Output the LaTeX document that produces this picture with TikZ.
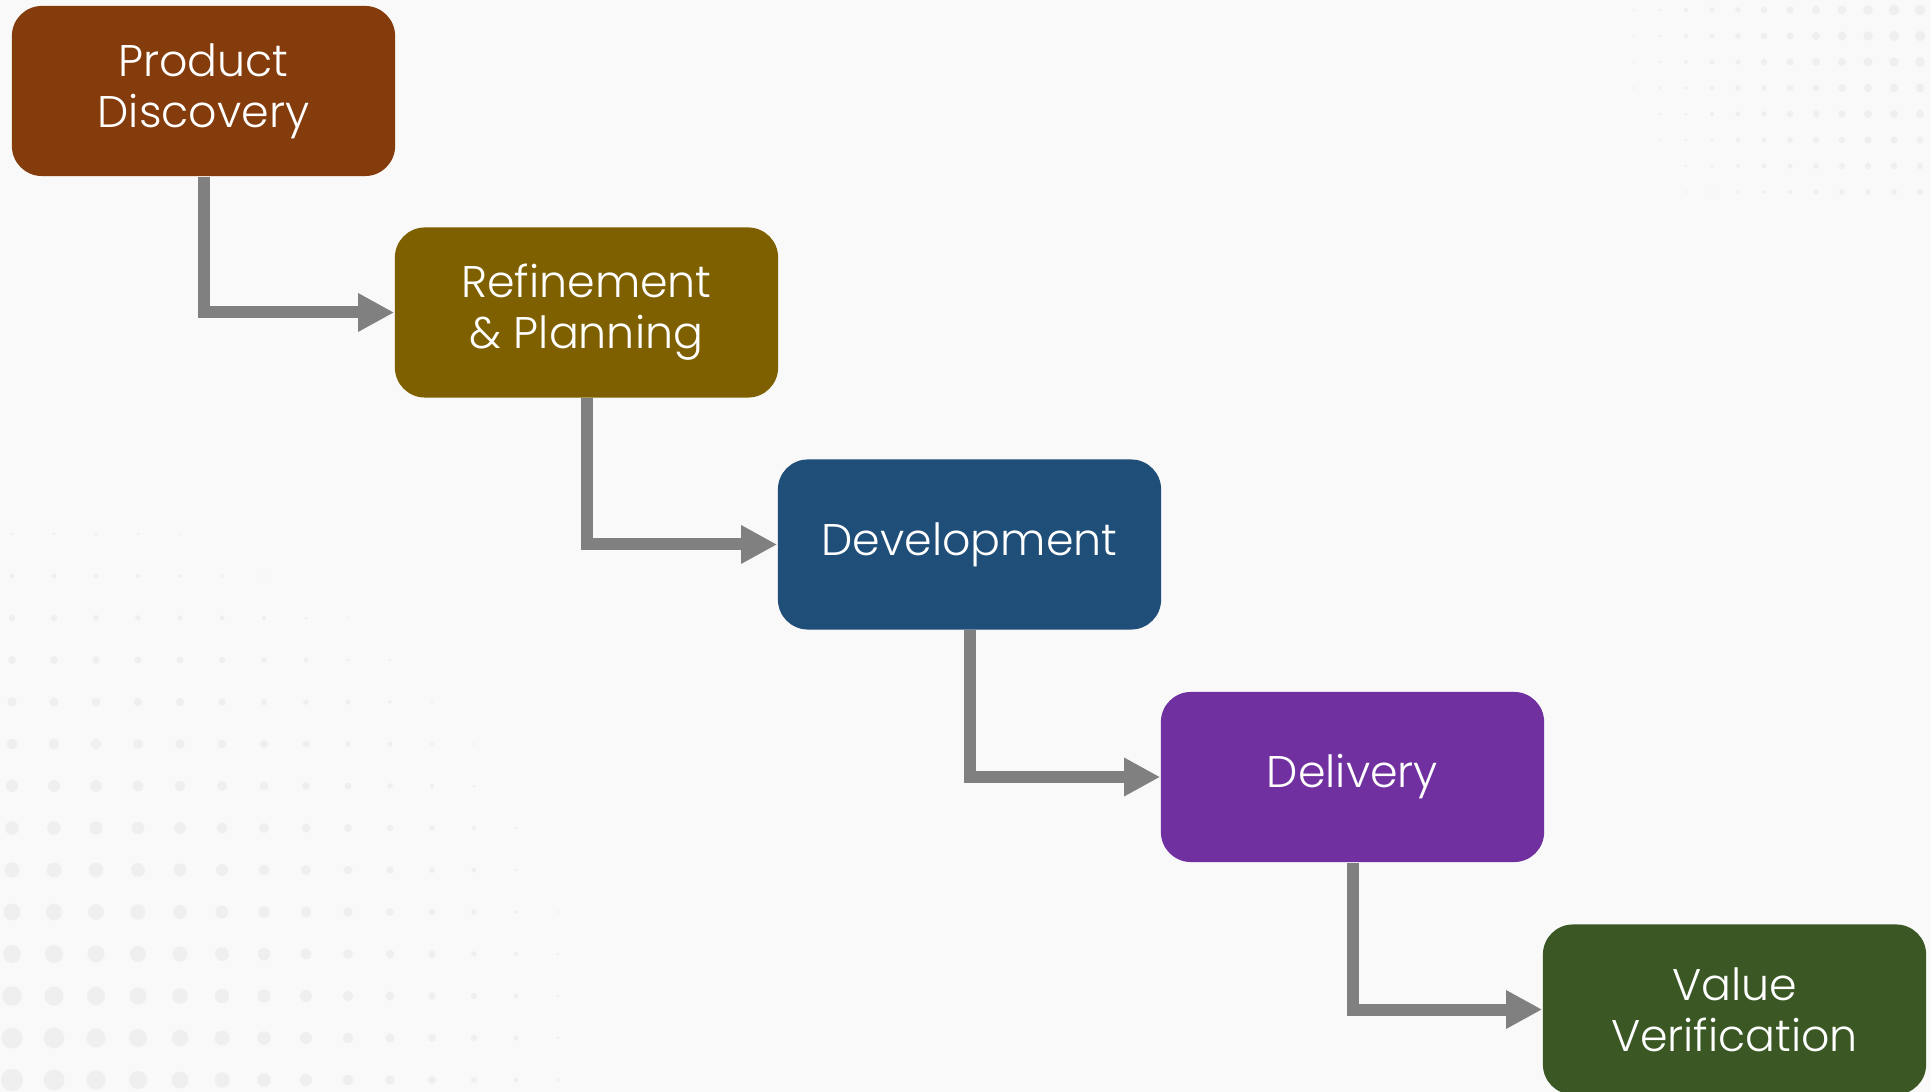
\documentclass[tikz,border=0pt]{standalone}
\usepackage{fontspec}
\setmainfont{Poppins}[UprightFont=* Light]
\usetikzlibrary{arrows.meta}
\definecolor{discbrown}{HTML}{843C0C}
\definecolor{planolive}{HTML}{7F6000}
\definecolor{devblue}{HTML}{1F4E79}
\definecolor{delpurple}{HTML}{7030A0}
\definecolor{valgreen}{HTML}{3A5724}
\definecolor{flowgray}{HTML}{808080}
\definecolor{bggray}{HTML}{F9F9F9}
\definecolor{dotgray}{HTML}{EFEFEF}

\tikzset{
  stage/.style={rounded corners=0.3cm, minimum width=3.83cm, minimum height=1.70cm,
    text=white, align=center, inner sep=0pt, font=\fontsize{12.6}{14.6}\selectfont},
  flow/.style={draw=flowgray, line width=0.12cm, -{Triangle[length=0.36cm,width=0.36cm]}}
}

\begin{document}
\begin{tikzpicture}[x=0.01cm, y=-0.01cm]
    \useasboundingbox (0,0) rectangle (1931,1092);
    \clip (0,0) rectangle (1931,1092);
    \fill[bggray] (0,0) rectangle (1931,1092);

    % faint halftone dots, lower left and upper right
    \foreach \i in {0,...,18} {
      \foreach \j in {0,...,13} {
        \pgfmathsetmacro{\dd}{42*sqrt(\i*\i+\j*\j)}
        \pgfmathsetmacro{\rr}{max(0,3.2-\dd/200)}
        \ifdim\rr pt>0.3pt
          \fill[dotgray] (\i*42+12, 1080-\j*42) circle (\rr pt);
        \fi
      }
    }
    \foreach \i in {0,...,14} {
      \foreach \j in {0,...,7} {
        \pgfmathsetmacro{\dd}{26*sqrt(\i*\i+\j*\j)}
        \pgfmathsetmacro{\rr}{max(0,1.6-\dd/230)}
        \ifdim\rr pt>0.3pt
          \fill[dotgray] (1920-\i*26, 10+\j*26) circle (\rr pt);
        \fi
      }
    }

    \node[stage, fill=discbrown] (disc) at (203.5,91) {Product\\Discovery};
    \node[stage, fill=planolive] (plan) at (586.5,312.5) {Refinement\\\& Planning};
    \node[stage, fill=devblue] (dev) at (969.5,544.5) {Development};
    \node[stage, fill=delpurple] (deliv) at (1352.5,777) {Delivery};
    \node[stage, fill=valgreen] (value) at (1734.5,1009.5) {Value\\Verification};

    \draw[flow] (disc.south) |- (plan.west);
    \draw[flow] (plan.south) |- (dev.west);
    \draw[flow] (dev.south) |- (deliv.west);
    \draw[flow] (deliv.south) |- (value.west);
\end{tikzpicture}
\end{document}
